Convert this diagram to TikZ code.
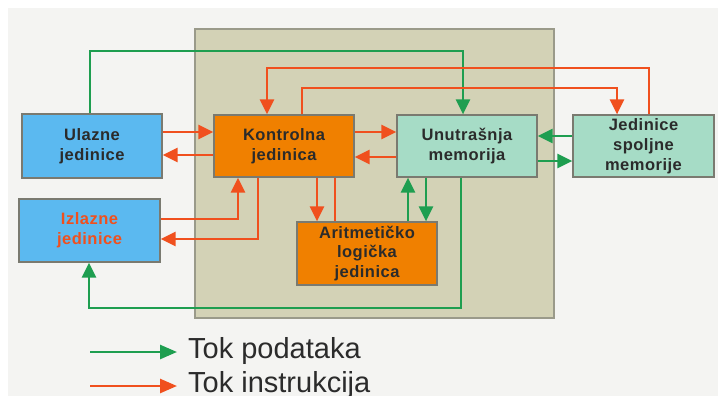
\documentclass[tikz,border=0pt]{standalone}
\usepackage{fontspec}
\setmainfont{Liberation Sans}
\newfontfamily\boxfont[LetterSpace=3]{Liberation Sans}
\usetikzlibrary{arrows.meta}
\definecolor{bgc}{HTML}{F4F4F2}
\definecolor{panelc}{HTML}{D3D2B6}
\definecolor{panelline}{HTML}{9A9A8A}
\definecolor{boxline}{HTML}{7A7A70}
\definecolor{bluec}{HTML}{5BB9F0}
\definecolor{orangec}{HTML}{F08000}
\definecolor{tealc}{HTML}{A6DCC6}
\definecolor{gline}{HTML}{1E9E50}
\definecolor{oline}{HTML}{F0501E}
\definecolor{txt}{HTML}{2B2B2B}
\begin{document}
\begin{tikzpicture}[x=1pt,y=-1pt,
  box/.style={draw=boxline, line width=1.2pt, minimum width=140pt, minimum height=62pt,
    inner sep=0pt, align=center, text=txt,
    font=\boxfont\fontsize{16.5}{20}\selectfont\bfseries},
  garr/.style={draw=gline, line width=2.6pt, -{Triangle[length=15pt,width=14pt]}},
  oarr/.style={draw=oline, line width=2.6pt, -{Triangle[length=15pt,width=14pt]}},
  oplain/.style={draw=oline, line width=2.6pt},
  legtext/.style={anchor=base west, inner sep=0pt, text=txt, font=\fontsize{29}{32}\selectfont}
]
\useasboundingbox (0,0) rectangle (718,396);
\fill[white] (0,0) rectangle (718,396);
\fill[bgc] (8,8) rectangle (718,396);
% panel
\draw[panelline, fill=panelc, line width=1.2pt] (195,29) rectangle (554,318);

% boxes
\node[box, fill=bluec, minimum height=64pt] (ul) at (92,146) {Ulazne\\jedinice};
\node[box, fill=orangec] (ko) at (284,146) {Kontrolna\\jedinica};
\node[box, fill=tealc] (um) at (467,146) {Unutrašnja\\memorija};
\node[box, fill=tealc, minimum width=141pt] (js) at (643.5,146) {Jedinice\\spoljne\\memorije};
\node[box, fill=bluec, minimum width=141pt, minimum height=63pt, text=oline] (iz) at (89.5,230.5) {Izlazne\\jedinice};
\node[box, fill=orangec, minimum height=63pt, font=\boxfont\fontsize{16.5}{19.5}\selectfont\bfseries] (alu) at (367,253.5) {Aritmetičko\\logička\\jedinica};

% routing coordinates
\coordinate (gA) at (463,51);
\coordinate (oA) at (267,68);
\coordinate (oB) at (617,88);
\coordinate (gB) at (461,308);

% long connectors
\draw[garr] ([xshift=-2pt]ul.north) |- (gA) -- ([xshift=-4pt]um.north);
\draw[oarr] ([xshift=5.5pt]js.north) |- (oA) -- ([xshift=-17pt]ko.north);
\draw[oarr] ([xshift=18pt]ko.north) |- (oB) -- ([xshift=-26.5pt]js.north);

% horizontal pairs
\draw[oarr] ([yshift=14pt]ul.east) -- ([yshift=14pt]ko.west);
\draw[oarr] ([yshift=-9pt]ko.west) -- ([yshift=-9pt]ul.east);
\draw[oarr] ([yshift=14pt]ko.east) -- ([yshift=14pt]um.west);
\draw[oarr] ([yshift=-11pt]um.west) -- ([yshift=-11pt]ko.east);
\draw[garr] ([yshift=10pt]js.west) -- ([yshift=10pt]um.east);
\draw[garr] ([yshift=-15pt]um.east) -- ([yshift=-15pt]js.west);

% Izlazne <-> Kontrolna
\draw[oarr] ([yshift=11.5pt]iz.east) -| ([xshift=-46pt]ko.south);
\draw[oarr] ([xshift=-26pt]ko.south) |- ([yshift=-8.5pt]iz.east);

% Kontrolna <-> ALU
\draw[oarr] ([xshift=33pt]ko.south) -- ([xshift=-50pt]alu.north);
\draw[oplain] ([xshift=51pt]ko.south) -- ([xshift=-32pt]alu.north);

% ALU <-> memorija
\draw[garr] ([xshift=41pt]alu.north) -- ([xshift=-59pt]um.south);
\draw[garr] ([xshift=-41pt]um.south) -- ([xshift=59pt]alu.north);

% memorija -> Izlazne
\draw[garr] ([xshift=-6pt]um.south) -- (gB) -| ([xshift=-0.5pt]iz.south);

% legend
\coordinate (lg1) at (90,352);
\coordinate (lg2) at (177,352);
\coordinate (lo1) at (90,386);
\coordinate (lo2) at (177,386);
\draw[garr, -{Triangle[length=17pt,width=14pt]}] (lg1) -- (lg2);
\draw[oarr, -{Triangle[length=17pt,width=14pt]}] (lo1) -- (lo2);
\node[legtext] (lt1) at (188,358) {Tok podataka};
\node[legtext] (lt2) at (188,392) {Tok instrukcija};
\end{tikzpicture}
\end{document}
